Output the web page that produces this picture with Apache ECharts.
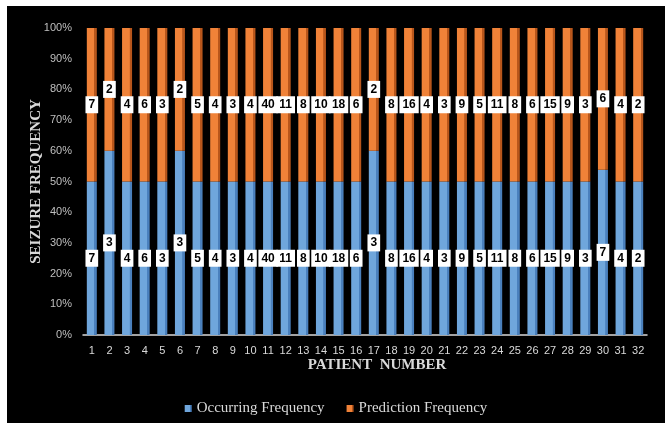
<!DOCTYPE html>
<html>
<head>
<meta charset="utf-8">
<script src="https://cdn.jsdelivr.net/npm/echarts@6/dist/echarts.min.js"></script>
<style>
  html, body { margin: 0; padding: 0; background: #ffffff; }
  #chart { position: absolute; left: 7px; top: 6px; width: 658px; height: 417px; }
</style>
</head>
<body>
<div id="chart"></div>
<script>
// Seizure counts per patient
const patients = ['1','2','3','4','5','6','7','8','9','10','11','12','13','14','15','16',
                  '17','18','19','20','21','22','23','24','25','26','27','28','29','30','31','32'];
const occurring  = [7,3,4,6,3,3,5,4,3,4,40,11,8,10,18,6,3,8,16,4,3,9,5,11,8,6,15,9,3,7,4,2];
const prediction = [7,2,4,6,3,2,5,4,3,4,40,11,8,10,18,6,2,8,16,4,3,9,5,11,8,6,15,9,3,6,4,2];
const yTicks = [0,10,20,30,40,50,60,70,80,90,100];

// 100% stacking: each segment is its share of the patient's total
const totals = occurring.map((v, i) => v + prediction[i]);
const occShare = occurring.map((v, i) => v / totals[i] * 100);
const predShare = prediction.map((v, i) => v / totals[i] * 100);

// face + darker side strip to give the columns a bevelled look
function columnFill(face, side) {
  return new echarts.graphic.LinearGradient(0, 0, 1, 0, [
    { offset: 0, color: face },
    { offset: 0.74, color: face },
    { offset: 0.76, color: side },
    { offset: 1, color: side }
  ]);
}

const labelStyle = {
  show: true,
  position: 'inside',
  backgroundColor: '#ffffff',
  color: '#000000',
  fontFamily: 'Liberation Sans',
  fontWeight: 'bold',
  fontSize: 12,
  padding: [3, 3, 2, 3]
};

const chart = echarts.init(document.getElementById('chart'), null, { renderer: 'canvas' });
chart.setOption({
  backgroundColor: '#000000',
  animation: false,
  grid: { left: 76, right: 18, top: 22, bottom: 88, containLabel: false },
  legend: {
    bottom: 2,
    left: 'center',
    itemWidth: 7,
    itemHeight: 7,
    itemGap: 22,
    icon: 'rect',
    textStyle: { color: '#d9d9d9', fontFamily: 'Liberation Serif', fontSize: 15 },
    data: ['Occurring Frequency', 'Prediction Frequency']
  },
  xAxis: {
    type: 'category',
    data: patients,
    name: 'PATIENT  NUMBER',
    nameLocation: 'middle',
    nameGap: 23,
    nameMoveOverlap: false,
    nameTextStyle: { color: '#d9d9d9', fontFamily: 'Liberation Serif', fontWeight: 'bold', fontSize: 15, padding: [0, 0, 0, 24] },
    axisLine: { show: true, lineStyle: { color: '#d9d9d9', width: 1.5 } },
    axisTick: { show: false },
    axisLabel: { color: '#d9d9d9', fontFamily: 'Liberation Sans', fontSize: 11, margin: 10, interval: 0 }
  },
  yAxis: {
    type: 'value',
    min: yTicks[0],
    max: yTicks[yTicks.length - 1],
    interval: 10,
    name: 'SEIZURE FREQUENCY',
    nameLocation: 'middle',
    nameGap: 39,
    nameMoveOverlap: false,
    nameRotate: 90,
    nameTextStyle: { color: '#d9d9d9', fontFamily: 'Liberation Serif', fontWeight: 'bold', fontSize: 15 },
    axisLine: { show: false },
    axisTick: { show: false },
    splitLine: { show: false },
    axisLabel: { color: '#bfbfbf', fontFamily: 'Liberation Sans', fontSize: 11, margin: 11, formatter: '{value}%' }
  },
  series: [
    {
      name: 'Occurring Frequency',
      type: 'bar',
      stack: 'share',
      barWidth: 10,
      data: occShare,
      itemStyle: { color: columnFill('#6fa6dc', '#4a80bd') },
      label: Object.assign({}, labelStyle, { formatter: p => String(occurring[p.dataIndex]) })
    },
    {
      name: 'Prediction Frequency',
      type: 'bar',
      stack: 'share',
      barWidth: 10,
      data: predShare,
      itemStyle: { color: columnFill('#f08238', '#b8561b') },
      label: Object.assign({}, labelStyle, { formatter: p => String(prediction[p.dataIndex]) })
    }
  ],
  color: ['#5b9bd5', '#ed7d31']
});
</script>
</body>
</html>
